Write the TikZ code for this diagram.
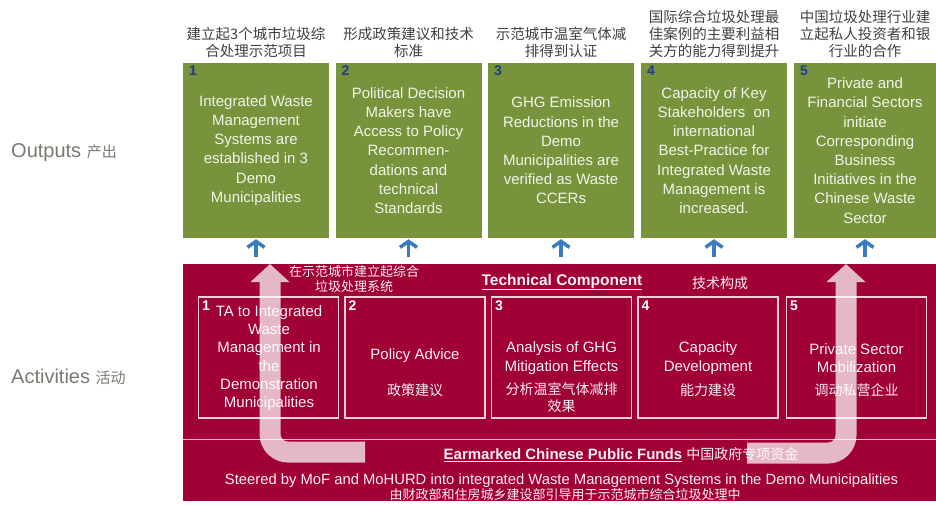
\documentclass[tikz,border=0pt]{standalone}
\usepackage{fontspec}
\setmainfont{Liberation Sans}
\newfontfamily\cjk{Noto Sans CJK SC}
\usetikzlibrary{arrows.meta}
\definecolor{outgreen}{RGB}{119,147,60}
\definecolor{outtext}{RGB}{242,244,232}
\definecolor{numblue}{RGB}{31,60,136}
\definecolor{headgray}{RGB}{64,64,64}
\definecolor{sidegray}{RGB}{125,120,112}
\definecolor{actred}{RGB}{160,0,52}
\definecolor{arrblue}{RGB}{58,122,192}
\tikzstyle{head}=[anchor=south,inner sep=0,align=center,text=headgray,font=\cjk\fontsize{14.5}{17}\selectfont]
\tikzstyle{outbox}=[rectangle,fill=outgreen,minimum width=146,minimum height=175,inner sep=0,align=center,text=outtext,font=\fontsize{15}{19.2}\selectfont]
\tikzstyle{outnum}=[anchor=north west,inner sep=1,text=numblue,font=\bfseries\fontsize{14}{16}\selectfont]
\tikzstyle{uparr}=[draw=arrblue,line width=3.5,shorten >=1,-{Straight Barb[length=6pt,width=17pt,line width=3.5pt]}]
\tikzstyle{actbox}=[rectangle,draw=white!82!actred,line width=1.3,minimum width=140,minimum height=121,inner sep=0]
\tikzstyle{actnum}=[anchor=north west,inner sep=1,text=white,font=\bfseries\fontsize{14}{16}\selectfont]
\tikzstyle{acttxt}=[inner sep=0,align=center,text=white!94!actred,font=\fontsize{15}{18.3}\selectfont]
\tikzstyle{actcn}=[inner sep=0,align=center,text=white!94!actred,font=\cjk\fontsize{14}{17}\selectfont]
\tikzstyle{side}=[anchor=west,inner sep=0,text=sidegray,font=\fontsize{20}{22}\selectfont]
\tikzstyle{bigarr}=[draw=white,line width=21,rounded corners=18,-{Triangle[length=18pt,width=38pt]}]

\begin{document}
\begin{tikzpicture}[x=1pt,y=-1pt]
\useasboundingbox (0,0) rectangle (936,504);

\node[side] (outl) at (11,153) {Outputs {\cjk\fontsize{15}{17}\selectfont 产出}};
\node[side] (actl) at (11,377) {Activities {\cjk\fontsize{15}{17}\selectfont 活动}};

\node[head] (h1) at (256,58) {建立起3个城市垃圾综\\合处理示范项目};
\node[head] (h2) at (408.5,58) {形成政策建议和技术\\标准};
\node[head] (h3) at (561,58) {示范城市温室气体减\\排得到认证};
\node[head] (h4) at (714,58) {国际综合垃圾处理最\\佳案例的主要利益相\\关方的能力得到提升};
\node[head] (h5) at (865,58) {中国垃圾处理行业建\\立起私人投资者和银\\行业的合作};

\node[outbox] (o1) at (256,150.5) {Integrated Waste\\Management\\Systems are\\established in 3\\Demo\\Municipalities};
\node[outbox] (o2) at (408.5,150.5) {Political Decision\\Makers have\\Access to Policy\\Recommen-\\dations and\\technical\\Standards};
\node[outbox] (o3) at (561,150.5) {GHG Emission\\Reductions in the\\Demo\\Municipalities are\\verified as Waste\\CCERs};
\node[outbox] (o4) at (714,150.5) {Capacity of Key\\Stakeholders\ \ on\\international\\Best-Practice for\\Integrated Waste\\Management is\\increased.};
\node[outbox,minimum width=142] (o5) at (865,150.5) {Private and\\Financial Sectors\\initiate\\Corresponding\\Business\\Initiatives in the\\Chinese Waste\\Sector};
\node[outnum] (n1) at ([xshift=5pt,yshift=-2pt]o1.north west) {1};
\node[outnum] (n2) at ([xshift=5pt,yshift=-2pt]o2.north west) {2};
\node[outnum] (n3) at ([xshift=5pt,yshift=-2pt]o3.north west) {3};
\node[outnum] (n4) at ([xshift=5pt,yshift=-2pt]o4.north west) {4};
\node[outnum] (n5) at ([xshift=5pt,yshift=-2pt]o5.north west) {5};

\coordinate (u1) at (256,257); \coordinate (u2) at (408.5,257); \coordinate (u3) at (561,257); \coordinate (u4) at (714,257); \coordinate (u5) at (865,257);
\draw[uparr] (u1) -- (o1.south); \draw[uparr] (u2) -- (o2.south); \draw[uparr] (u3) -- (o3.south); \draw[uparr] (u4) -- (o4.south); \draw[uparr] (u5) -- (o5.south);

\fill[actred] (183,264) rectangle (936,501);
\draw[white!75!actred,line width=1] (183,439.5) -- (936,439.5);

\node[inner sep=0,align=center,text=white!94!actred,font=\cjk\fontsize{13}{15}\selectfont] (sys) at (354,279.5) {在示范城市建立起综合\\垃圾处理系统};
\node[inner sep=0,text=white!94!actred,font=\bfseries\fontsize{15.5}{17}\selectfont] (tech) at (562,282) {\underline{Technical Component}};
\node[inner sep=0,text=white!94!actred,font=\cjk\fontsize{14}{16}\selectfont] (techcn) at (720,283) {技术构成};

\node[actbox] (a1) at (268.5,357.5) {};
\node[actbox] (a2) at (415,357.5) {};
\node[actbox] (a3) at (561.5,357.5) {};
\node[actbox] (a4) at (708,357.5) {};
\node[actbox] (a5) at (856.5,357.5) {};
\node[actnum] (m1) at ([xshift=3pt,yshift=-3pt]a1.north west) {1};
\node[actnum] (m2) at ([xshift=3pt,yshift=-3pt]a2.north west) {2};
\node[actnum] (m3) at ([xshift=3pt,yshift=-3pt]a3.north west) {3};
\node[actnum] (m4) at ([xshift=3pt,yshift=-3pt]a4.north west) {4};
\node[actnum] (m5) at ([xshift=3pt,yshift=-3pt]a5.north west) {5};

\node[acttxt] (t1) at (269,358) {TA to Integrated\\Waste\\Management in\\the\\Demonstration\\Municipalities};
\node[acttxt] (t2) at (415,356) {Policy Advice};
\node[actcn] (c2) at (415,390) {政策建议};
\node[acttxt] (t3) at (561.5,358) {Analysis of GHG\\Mitigation Effects};
\node[actcn] (c3) at (561.5,398) {分析温室气体减排\\效果};
\node[acttxt] (t4) at (708,358) {Capacity\\Development};
\node[actcn] (c4) at (708,390) {能力建设};
\node[acttxt] (t5) at (856.5,358) {Private Sector\\Mobilization};
\node[actcn] (c5) at (856.5,390) {调动私营企业};

\node[inner sep=0,text=white!94!actred,font=\fontsize{15}{17}\selectfont] (fund) at (621,455) {\underline{\bfseries Earmarked Chinese Public Funds} {\cjk\fontsize{14}{16}\selectfont 中国政府专项资金}};
\node[inner sep=0,text=white!94!actred,font=\fontsize{14.8}{17}\selectfont] (steer) at (561.5,481) {Steered by MoF and MoHURD\ into integrated Waste Management Systems in the Demo Municipalities};
\node[inner sep=0,text=white!94!actred,font=\cjk\fontsize{13}{15}\selectfont] (steercn) at (565,494.5) {由财政部和住房城乡建设部引导用于示范城市综合垃圾处理中};

\coordinate (lb) at (365,452); \coordinate (lt) at (270,264);
\coordinate (rb) at (747,453); \coordinate (rt) at (846,264);
\begin{scope}[transparency group,opacity=0.72]
\draw[bigarr] (lb) -| (lt);
\end{scope}
\begin{scope}[transparency group,opacity=0.72]
\draw[bigarr] (rb) -| (rt);
\end{scope}
\end{tikzpicture}
\end{document}
